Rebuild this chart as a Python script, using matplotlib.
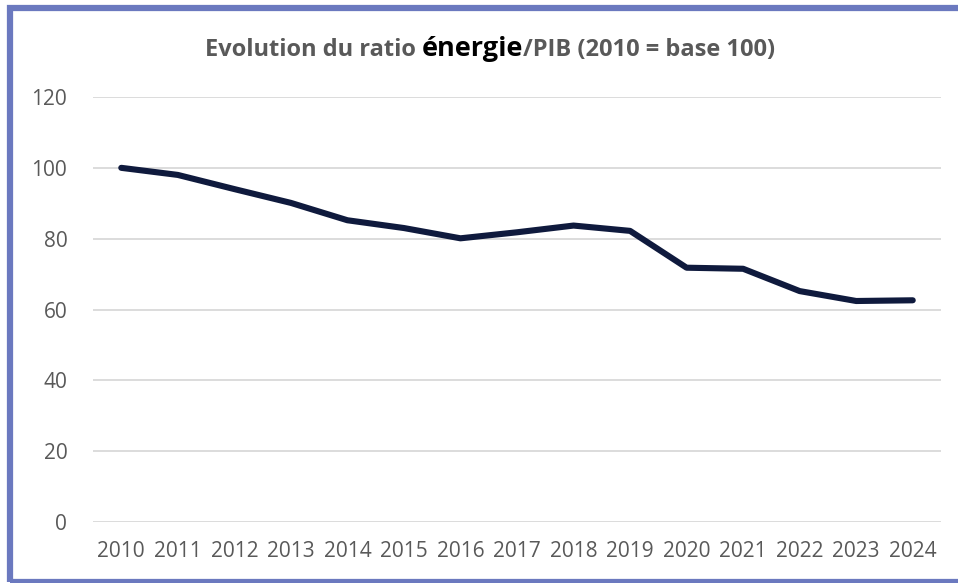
import matplotlib
matplotlib.use("Agg")
import matplotlib.pyplot as plt
from matplotlib.patches import Rectangle

years = ["2010", "2011", "2012", "2013", "2014", "2015", "2016", "2017",
         "2018", "2019", "2020", "2021", "2022", "2023", "2024"]
ratio = [100.0, 98.0, 94.0, 90.1, 85.2, 83.0, 80.1, 81.8,
         83.7, 82.2, 71.8, 71.5, 65.2, 62.4, 62.6]
yticks = [0, 20, 40, 60, 80, 100, 120]

plt.rcParams['font.family'] = ['Open Sans', 'DejaVu Sans']

W, H = 958, 583
fig = plt.figure(figsize=(W / 100, H / 100), dpi=100)
ax = fig.add_axes([93 / W, 1 - 522 / H, (941 - 93) / W, (522 - 97) / H])

x = list(range(len(years)))
ax.plot(x, ratio, color="#0f1a3d", lw=4.4, solid_capstyle="round",
        solid_joinstyle="round", zorder=3)

ax.set_xlim(-0.5, len(years) - 0.5)
ax.set_ylim(0, 120)
ax.set_yticks(yticks)
ax.set_xticks(x)
ax.set_xticklabels(years)
ax.grid(axis="y", color="#d9d9d9", lw=1.3)
ax.set_axisbelow(True)
for s in ax.spines.values():
    s.set_visible(False)
ax.tick_params(axis="both", length=0, labelsize=15, labelcolor="#595959")
ax.tick_params(axis="y", pad=18.5)
ax.tick_params(axis="x", pad=14)

# Title in three parts
fig.canvas.draw()
r = fig.canvas.get_renderer()
parts = [("Evolution du ratio ", "#595959", 17),
         ("énergie", "#000000", 19.5),
         ("/PIB (2010 = base 100)", "#595959", 17)]
texts = []
for s, c, fs in parts:
    t = fig.text(0, 0, s, color=c, fontsize=fs, fontweight="bold",
                 ha="left", va="baseline", transform=None)
    texts.append(t)
widths = [t.get_window_extent(r).width for t in texts]
total = sum(widths)
xc = 490
base_y = H - 56
xs = xc - total / 2
for t, w in zip(texts, widths):
    t.set_position((xs, base_y))
    xs += w

# Border
fig.patches.append(Rectangle((10, 1.5), 960, 573.5, transform=None,
                             fill=False, ec="#6b79bf", lw=4.5))

fig.savefig("out.png", dpi=100)
